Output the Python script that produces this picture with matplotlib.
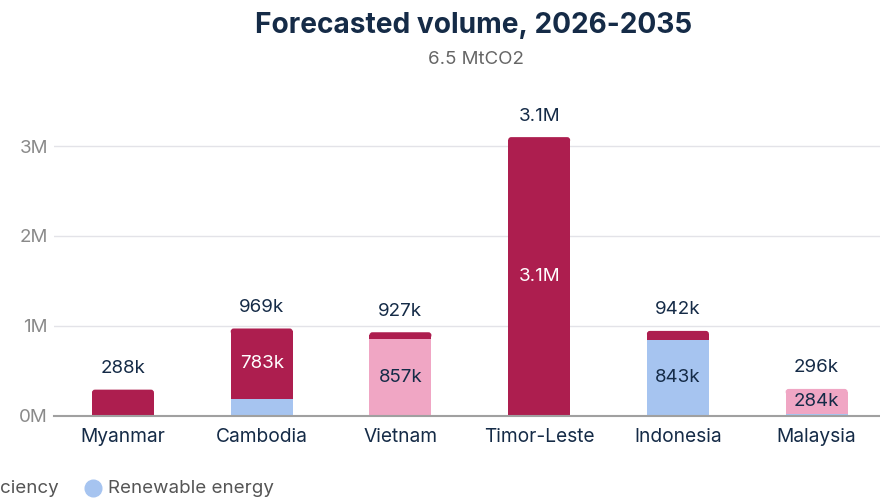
import numpy as np
import matplotlib.pyplot as plt
from matplotlib.lines import Line2D
from matplotlib.patches import FancyBboxPatch

plt.rcParams['font.family'] = ['Inter', 'DejaVu Sans']

countries = ["Myanmar", "Cambodia", "Vietnam", "Timor-Leste", "Indonesia", "Malaysia"]
# stacked from the bottom: renewable energy, energy efficiency, other
renewable = [0, 186000, 0, 0, 843000, 12000]
efficiency = [0, 0, 857000, 0, 0, 284000]
other = [288000, 783000, 70000, 3100000, 99000, 0]
total_labels = ["288k", "969k", "927k", "3.1M", "942k", "296k"]
# (bar index, series, text) for the values written inside the bars
inner_labels = [(1, "other", "783k"), (2, "efficiency", "857k"), (3, "other", "3.1M"),
                (4, "renewable", "843k"), (5, "efficiency", "284k")]
yticks = [0, 1e6, 2e6, 3e6]
ytick_labels = ["0M", "1M", "2M", "3M"]

c_other = "#AD1E4F"
c_eff = "#F0A6C4"
c_ren = "#A6C4F0"
navy = "#152B47"

W, H = 880, 498
fig = plt.figure(figsize=(8.8, 4.98), dpi=100)
# axes: x from 53.6px to 886px, zero line at y=415.5px, 1M = 89.8px
ymax = 3.3e6
px_y = 1e6 / 89.8      # data units per pixel, y
px_x = 1 / 138.8       # data units per pixel, x
ax = fig.add_axes([53.6 / W, (H - 415.5) / H, (886 - 53.6) / W, ymax / px_y / H])

x = np.arange(len(countries))
bw = 0.447
ren = np.array(renewable)
eff = np.array(efficiency)
oth = np.array(other)
tops = ren + eff + oth
r = 3  # corner radius in px

# top segment of each bar is cut short and finished with a rounded cap
stack = [(ren, np.zeros(len(x)), c_ren), (eff, ren, c_eff), (oth, ren + eff, c_other)]
for vals, base, col in stack:
    h = vals.astype(float).copy()
    is_top = (vals > 0) & (base + vals == tops)
    h[is_top] -= r * px_y
    ax.bar(x, h, bw, bottom=base, color=col, zorder=2)
    for i in np.where(is_top)[0]:
        cap = FancyBboxPatch((x[i] - bw / 2, tops[i] - 2 * r * px_y), bw, 2 * r * px_y,
                             boxstyle=f"round,pad=0,rounding_size={r * px_x}",
                             mutation_aspect=px_y / px_x, facecolor=col, edgecolor="none", zorder=2)
        ax.add_patch(cap)

for i, t in enumerate(tops):
    ax.annotate(total_labels[i], (x[i], t), xytext=(0, 9), textcoords="offset points",
                ha="center", va="bottom", fontsize=13.5, color=navy)

series = {"renewable": (ren, np.zeros(len(x))), "efficiency": (eff, ren), "other": (oth, ren + eff)}
for i, s, txt in inner_labels:
    vals, base = series[s]
    col = "white" if s == "other" else navy
    ax.text(x[i], base[i] + vals[i] / 2, txt, ha="center", va="center", fontsize=13.5, color=col, zorder=3)

ax.set_xlim(-0.5, len(x) - 0.5)
ax.set_ylim(0, ymax)
ax.set_yticks(yticks)
ax.set_yticklabels(ytick_labels)
ax.set_xticks(x)
ax.set_xticklabels(countries)
ax.tick_params(axis="y", length=0, pad=4, labelsize=13.5, labelcolor="#8a8a8a")
ax.tick_params(axis="x", length=0, pad=9, labelsize=13.8, labelcolor=navy)
ax.grid(axis="y", color="#E3E3E8", linewidth=1, zorder=0)
for sp in ["top", "right", "left"]:
    ax.spines[sp].set_visible(False)
ax.spines["bottom"].set_color("#A0A0A0")
ax.spines["bottom"].set_linewidth(1.5)
ax.spines["bottom"].set_zorder(3)

fig.text(474 / W, 1 - 33 / H, "Forecasted volume, 2026-2035", ha="center", va="baseline",
         fontsize=20.2, fontweight="bold", color=navy)
fig.text(476 / W, 1 - 64 / H, "6.5 MtCO2", ha="center", va="baseline", fontsize=13.5, color="#666666")

# legend row along the bottom, running off the left edge
leg_y = 1 - 488 / H
fig.text(-150 / W, leg_y, "Nature-based solutions", ha="right", va="center", fontsize=13.5, color="#555555")
fig.text(59 / W, leg_y, "Energy efficiency", ha="right", va="center", fontsize=13.5, color="#555555")
fig.text(108 / W, leg_y, "Renewable energy", ha="left", va="center", fontsize=13.5, color="#555555")
fig.add_artist(Line2D([93 / W], [leg_y], marker="o", markersize=12, color=c_ren,
                      transform=fig.transFigure, linestyle=""))
fig.add_artist(Line2D([-110 / W], [leg_y], marker="o", markersize=12, color=c_eff,
                      transform=fig.transFigure, linestyle=""))

fig.savefig("out.png", dpi=100)
